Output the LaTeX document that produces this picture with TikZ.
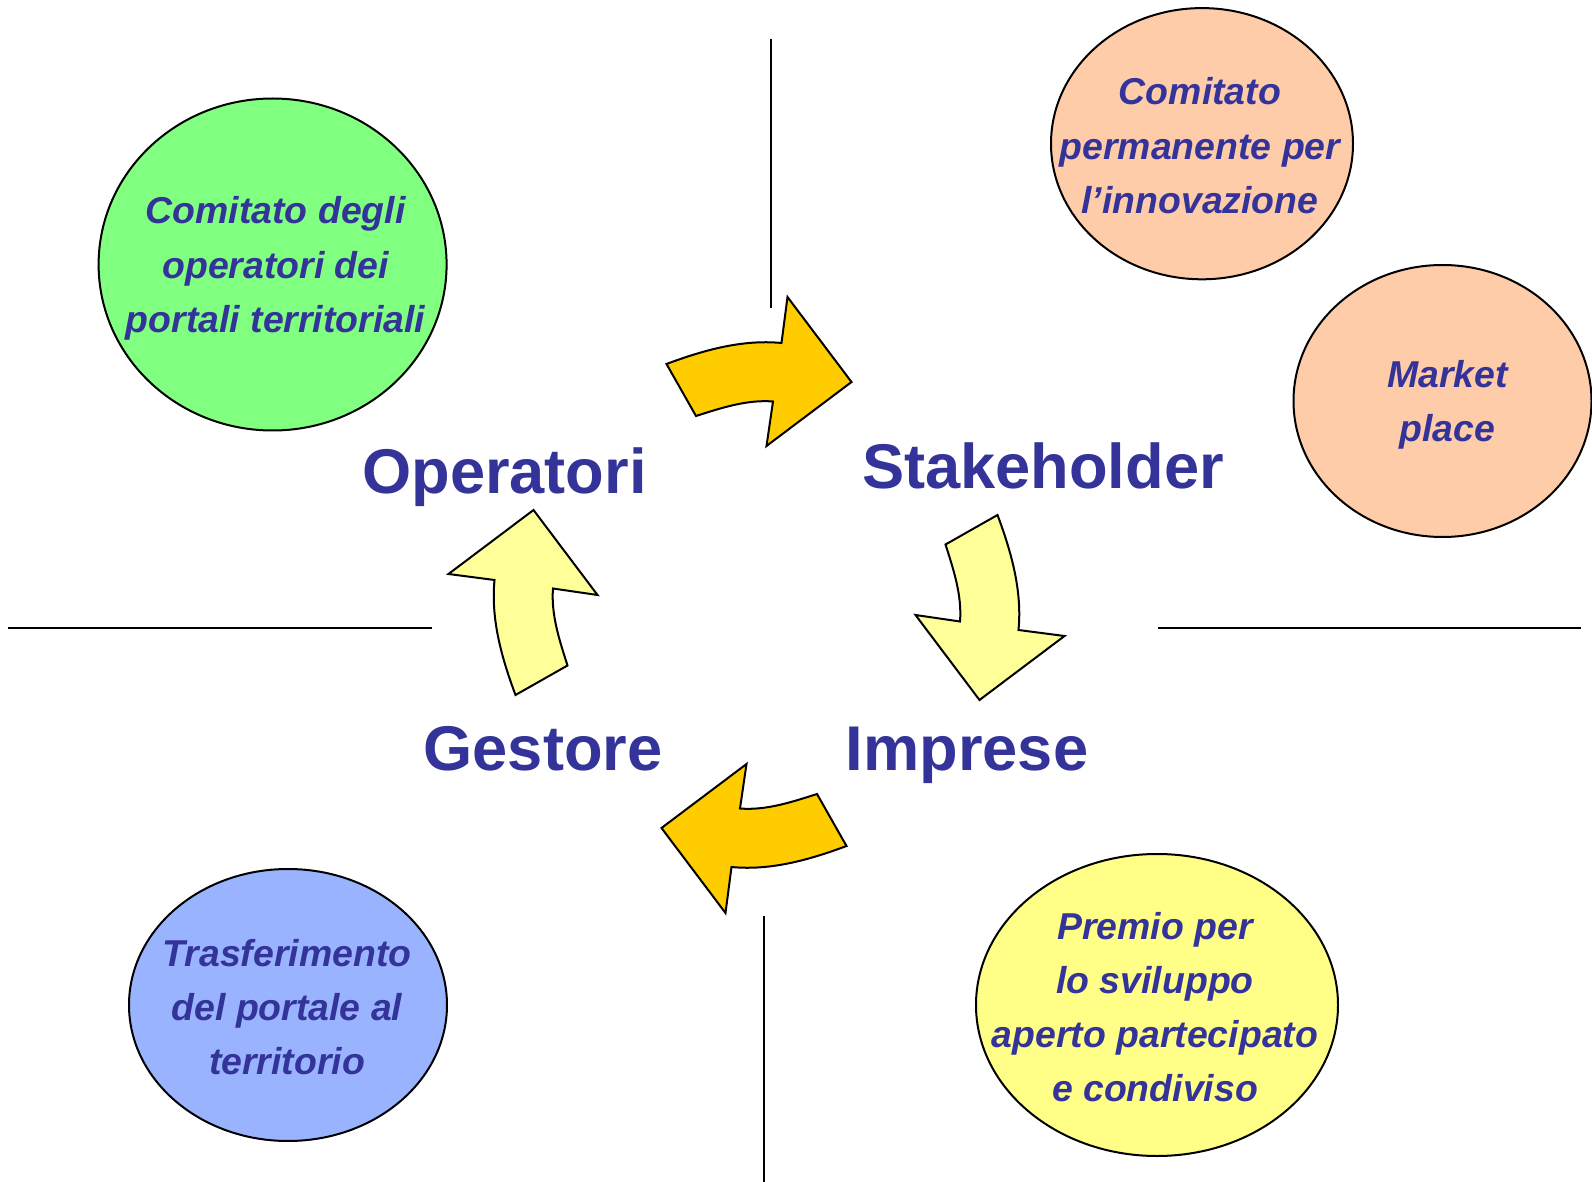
\documentclass[tikz,border=0pt]{standalone}
\usepackage{fontspec}
\setmainfont{Liberation Sans}
\usetikzlibrary{shapes.geometric,positioning}

\definecolor{navy}{HTML}{333399}
\definecolor{gold}{HTML}{FFCC00}
\definecolor{pale}{HTML}{FFFF99}
\definecolor{mint}{HTML}{80FF80}
\definecolor{peach}{HTML}{FFCCAA}
\definecolor{sky}{HTML}{99B3FF}
\definecolor{lemon}{HTML}{FFFF88}

\begin{document}
\begin{tikzpicture}[
				x=0.5pt,
				y=-0.5pt,
				actor/.style={
					font=\fontsize{31.6}{36}\selectfont\bfseries,
					text=navy,
					anchor=base,
					inner sep=0pt
					},
				bubble/.style={
					ellipse,
					draw,
					line width=1pt,
					inner sep=0pt
					},
				bubbletext/.style={
					align=center,
					text=navy,
					inner sep=0pt,
					font=\fontsize{18.7}{27.1}\selectfont\bfseries\itshape
					},
				divider/.style={
					draw,
					line width=1pt
					},
				turn/.style={
					draw,
					line width=1pt
					}]
			    \useasboundingbox (0,0) rectangle (1592,1182);

			    % Dividing lines
			    \path [divider] (770.6,38.6) -- (770.6,307.6);
			    \path [divider] (8,627.5) -- (431.5,627.5);
			    \path [divider] (1157.5,627.5) -- (1580.8,627.5);
			    \path [divider] (763.5,915.8) -- (763.5,1182);

			    % Bent arrows round the middle
			    \foreach \ang/\col in {0/gold,-90/pale,180/gold,90/pale}{
			      \begin{scope}[shift={(756.5,605)}, rotate=\ang]
			        \path [turn, fill=\col] (-90,-241) .. controls (-53,-254.8) and (-14.3,-265.8) .. (25,-262)
			          -- (31,-308) -- (95,-223) -- (10,-159) -- (16.5,-203.5)
			          .. controls (-9.7,-205.6) and (-35.4,-197) .. (-60.5,-189) -- cycle;
			      \end{scope}
			    }

			    % Place actors
			    \node [actor] (operatori) at (504.5,494) {Operatori};
			    \node [actor] (stakeholder) at (1043,488.7) {Stakeholder};
			    \node [actor] (gestore) at (543,770) {Gestore};
			    \node [actor] (imprese) at (967,770) {Imprese};

			    % Place bubbles
			    \node [bubble, fill=mint, minimum width=174pt, minimum height=166pt] (comop) at (272.6,264.5) {};
			    \node [bubbletext] at ([shift={(3,4)}]comop) {Comitato degli\\operatori dei\\portali territoriali};
			    \node [bubble, fill=peach, minimum width=151pt, minimum height=135.6pt] (comperm) at (1202,143.7) {};
			    \node [bubbletext] at ([shift={(-2,2)}]comperm) {Comitato\\permanente per\\l’innovazione};
			    \node [bubble, fill=peach, minimum width=149pt, minimum height=136pt] (market) at (1442.5,401) {};
			    \node [bubbletext] at ([shift={(5,4)}]market) {Market\\place};
			    \node [bubble, fill=sky, minimum width=159pt, minimum height=136pt] (trasf) at (288,1005) {};
			    \node [bubbletext] at ([shift={(-1,2)}]trasf) {Trasferimento\\del portale al\\territorio};
			    \node [bubble, fill=lemon, minimum width=181pt, minimum height=151pt] (premio) at (1157,1005) {};
			    \node [bubbletext] at ([shift={(-2,2)}]premio) {Premio per\\lo sviluppo\\aperto partecipato\\e condiviso};
			\end{tikzpicture}
\end{document}
